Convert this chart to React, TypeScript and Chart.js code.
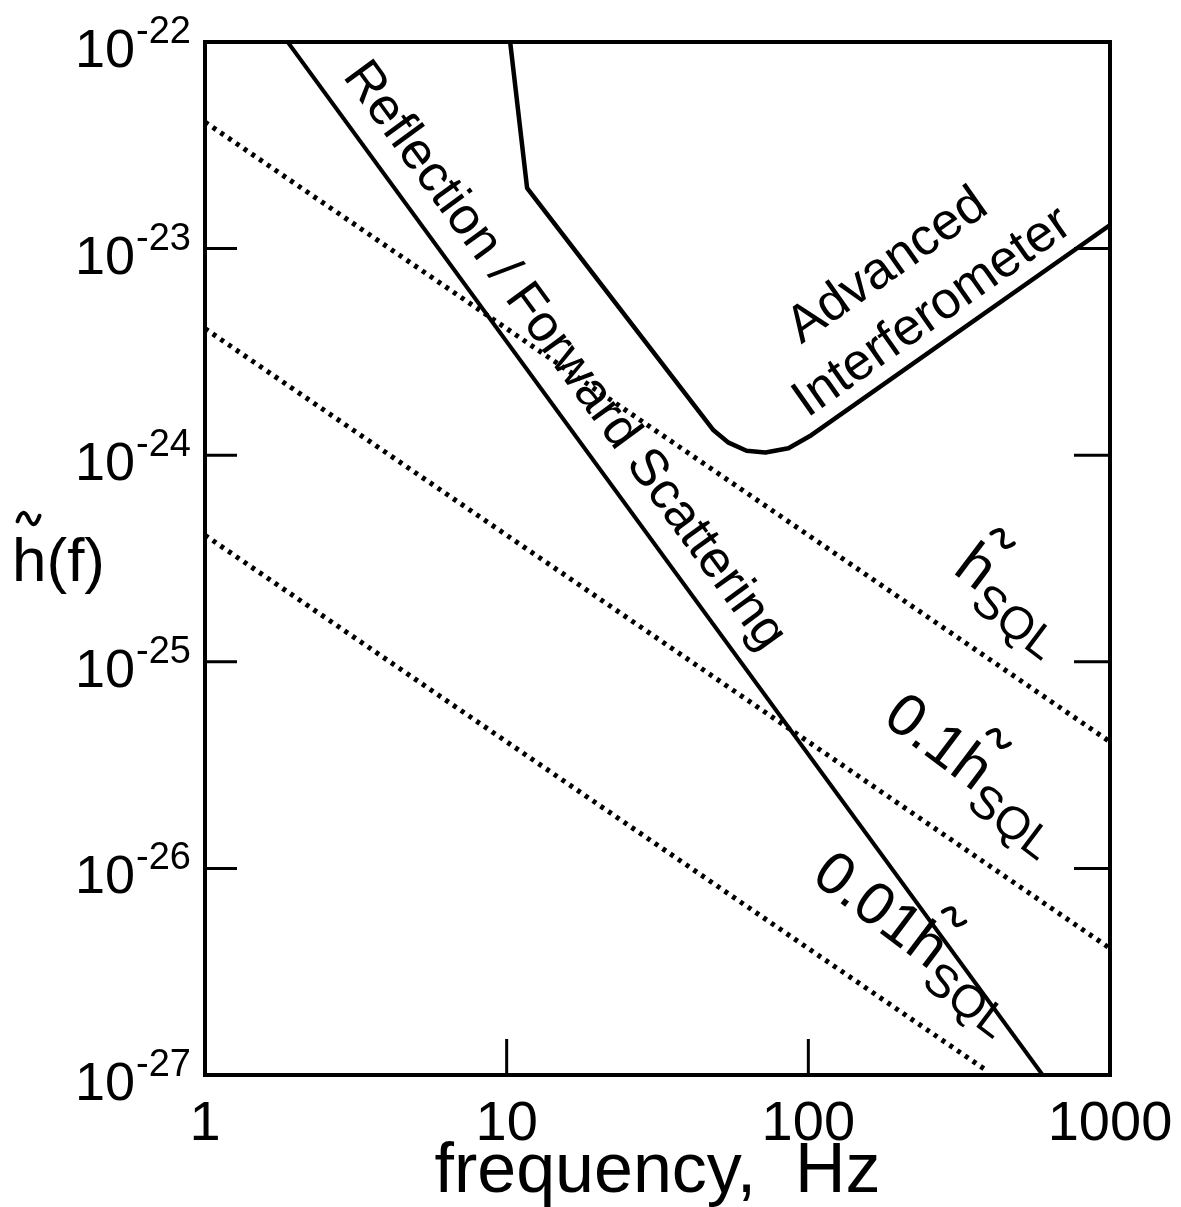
import React, { useEffect, useRef } from "react";
import { Chart, registerables } from "chart.js";

Chart.register(...registerables);

const FONT = '"Liberation Sans", Arial, Helvetica, sans-serif';

// Axis ticks
const xTickValues = [1, 10, 100, 1000];
const xTickLabels = ["1", "10", "100", "1000"];
const yTickValues = [1e-22, 1e-23, 1e-24, 1e-25, 1e-26, 1e-27];
const yTickExponents = ["-22", "-23", "-24", "-25", "-26", "-27"];

// Reflection / Forward Scattering (solid)
const reflectionFreq = [1.88, 598];
const reflectionStrain = [1e-22, 1e-27];

// Advanced Interferometer (solid)
const advancedFreq = [10.27, 11.69, 48.5, 54.4, 62.4, 72.1, 85.9, 102.3, 1000];
const advancedStrain = [1e-22, 1.96e-23, 1.32e-24, 1.15e-24, 1.05e-24, 1.03e-24, 1.08e-24, 1.25e-24, 1.3e-23];

// SQL lines (dotted)
const sqlFreq = [1, 1000];
const sqlStrain = [4.1e-23, 4.1e-26];
const sql01Freq = [1, 1000];
const sql01Strain = [4.1e-24, 4.1e-27];
const sql001Freq = [1, 394];
const sql001Strain = [4.1e-25, 1.04e-27];

const zip = (xs: number[], ys: number[]) => xs.map((x, i) => ({ x, y: ys[i] }));

function drawTilde(ctx: CanvasRenderingContext2D, cx: number, cy: number, w: number, h: number, lw: number) {
  ctx.save();
  ctx.translate(cx, cy);
  ctx.lineWidth = lw;
  ctx.lineCap = "round";
  ctx.beginPath();
  ctx.moveTo(-w / 2, h * 0.35);
  ctx.bezierCurveTo(-w / 3, -h, -w / 6, -h, 0, 0);
  ctx.bezierCurveTo(w / 6, h, w / 3, h, w / 2, -h * 0.35);
  ctx.stroke();
  ctx.restore();
}

function drawSQLLabel(ctx: CanvasRenderingContext2D, x: number, y: number, angDeg: number, prefix: string) {
  const big = 60;
  const sub = 46;
  ctx.save();
  ctx.translate(x, y);
  ctx.rotate((angDeg * Math.PI) / 180);
  ctx.textAlign = "left";
  ctx.textBaseline = "alphabetic";
  ctx.font = `${big}px ${FONT}`;
  const wP = ctx.measureText(prefix).width;
  const wH = ctx.measureText("h").width;
  ctx.fillText(prefix + "h", 0, 0);
  drawTilde(ctx, wP + wH * 0.62, -big * 0.96, 24, 8, 4);
  ctx.font = `${sub}px ${FONT}`;
  ctx.fillText("SQL", wP + wH + 1, 17);
  ctx.restore();
}

const annotate = {
  id: "annotate",
  afterDatasetsDraw(chart: any) {
    const { ctx, chartArea: a, scales } = chart;
    const xs = scales.x;
    const ys = scales.y;
    const px = (v: number) => xs.getPixelForValue(v);
    const py = (v: number) => ys.getPixelForValue(v);
    ctx.save();
    ctx.fillStyle = "#000";
    ctx.strokeStyle = "#000";

    // frame
    ctx.lineWidth = 4;
    ctx.lineJoin = "miter";
    ctx.beginPath();
    ctx.moveTo(a.left, a.top);
    ctx.lineTo(a.right, a.top);
    ctx.lineTo(a.right, a.bottom);
    ctx.lineTo(a.left, a.bottom);
    ctx.closePath();
    ctx.stroke();

    // inward ticks
    ctx.lineWidth = 3;
    yTickValues.forEach((v) => {
      const y = py(v);
      ctx.beginPath();
      ctx.moveTo(a.left, y);
      ctx.lineTo(a.left + 32, y);
      ctx.moveTo(a.right, y);
      ctx.lineTo(a.right - 36, y);
      ctx.stroke();
    });
    xTickValues.forEach((v) => {
      const x = px(v);
      ctx.beginPath();
      ctx.moveTo(x, a.bottom);
      ctx.lineTo(x, a.bottom - 36);
      ctx.stroke();
    });

    // y tick labels
    ctx.textBaseline = "alphabetic";
    yTickValues.forEach((v, i) => {
      const y = py(v);
      ctx.textAlign = "right";
      ctx.font = `38px ${FONT}`;
      const expRight = a.left - 14;
      ctx.fillText(yTickExponents[i], expRight, y + 1);
      const w = ctx.measureText(yTickExponents[i]).width;
      ctx.font = `54px ${FONT}`;
      ctx.fillText("10", expRight - w - 1, y + 25);
    });

    // x tick labels
    ctx.textAlign = "center";
    ctx.font = `56px ${FONT}`;
    xTickValues.forEach((v, i) => {
      ctx.fillText(xTickLabels[i], px(v), a.bottom + 65);
    });

    // x title
    ctx.font = `70px ${FONT}`;
    ctx.fillText("frequency,  Hz", (a.left + a.right) / 2, a.bottom + 117);

    // y title h~(f)
    ctx.textAlign = "left";
    ctx.font = `62px ${FONT}`;
    const yTitleBase = (a.top + a.bottom) / 2 + 22;
    ctx.fillText("h(f)", 12, yTitleBase);
    const hW = ctx.measureText("h").width;
    drawTilde(ctx, 12 + hW * 0.48, yTitleBase - 62, 22, 8, 4);

    // Reflection / Forward Scattering
    {
      const x0 = px(reflectionFreq[0]);
      const y0 = py(reflectionStrain[0]);
      const x1 = px(reflectionFreq[1]);
      const y1 = py(reflectionStrain[1]);
      const ang = Math.atan2(y1 - y0, x1 - x0);
      ctx.save();
      ctx.translate(px(14.2), py(2.75e-24));
      ctx.rotate(ang);
      ctx.font = `52px ${FONT}`;
      ctx.textAlign = "center";
      ctx.fillText("Reflection / Forward Scattering", 0, 0);
      ctx.restore();
    }

    // Advanced Interferometer
    {
      const n = advancedFreq.length;
      const x0 = px(advancedFreq[n - 2]);
      const y0 = py(advancedStrain[n - 2]);
      const x1 = px(advancedFreq[n - 1]);
      const y1 = py(advancedStrain[n - 1]);
      const ang = Math.atan2(y1 - y0, x1 - x0);
      ctx.font = `52px ${FONT}`;
      ctx.textAlign = "center";
      ctx.save();
      ctx.translate(px(195), py(7.2e-24));
      ctx.rotate(ang);
      ctx.fillText("Advanced", 0, 0);
      ctx.restore();
      ctx.save();
      ctx.translate(px(275), py(4.3e-24));
      ctx.rotate(ang);
      ctx.fillText("Interferometer", 0, 0);
      ctx.restore();
    }

    // SQL labels
    drawSQLLabel(ctx, px(298), py(2.72e-25), 37, "");
    drawSQLLabel(ctx, px(174), py(5.12e-26), 37, "0.1");
    drawSQLLabel(ctx, px(101), py(8.79e-27), 37, "0.01");

    ctx.restore();
  },
};

export default function App() {
  const ref = useRef<HTMLCanvasElement>(null);
  useEffect(() => {
    const solid = { borderColor: "#000", borderWidth: 4.5, pointRadius: 0, showLine: true, fill: false, tension: 0, borderJoinStyle: "round" as const, borderCapStyle: "butt" as const };
    const dotted = { borderColor: "#000", borderWidth: 5, pointRadius: 0, showLine: true, fill: false, tension: 0, borderDash: [4, 5.4], borderCapStyle: "butt" as const };
    const chart = new Chart(ref.current!, {
      type: "scatter",
      data: {
        datasets: [
          { label: "Reflection / Forward Scattering", data: zip(reflectionFreq, reflectionStrain), ...solid, borderWidth: 4 },
          { label: "Advanced Interferometer", data: zip(advancedFreq, advancedStrain), ...solid },
          { label: "hSQL", data: zip(sqlFreq, sqlStrain), ...dotted },
          { label: "0.1 hSQL", data: zip(sql01Freq, sql01Strain), ...dotted },
          { label: "0.01 hSQL", data: zip(sql001Freq, sql001Strain), ...dotted },
        ],
      },
      options: {
        responsive: false,
        animation: false,
        layout: { padding: { left: 205, right: 71, top: 42, bottom: 132 } },
        plugins: { legend: { display: false }, tooltip: { enabled: false } },
        scales: {
          x: { type: "logarithmic", min: 1, max: 1000, display: false },
          y: { type: "logarithmic", min: 1e-27, max: 1e-22, display: false },
        },
      },
      plugins: [annotate],
    });
    return () => chart.destroy();
  }, []);
  return (
    <div style={{ position: "absolute", left: 0, top: 0, width: 1181, height: 1207, background: "#fff" }}>
      <canvas ref={ref} width={1181} height={1207} style={{ display: "block", width: 1181, height: 1207 }} />
    </div>
  );
}
